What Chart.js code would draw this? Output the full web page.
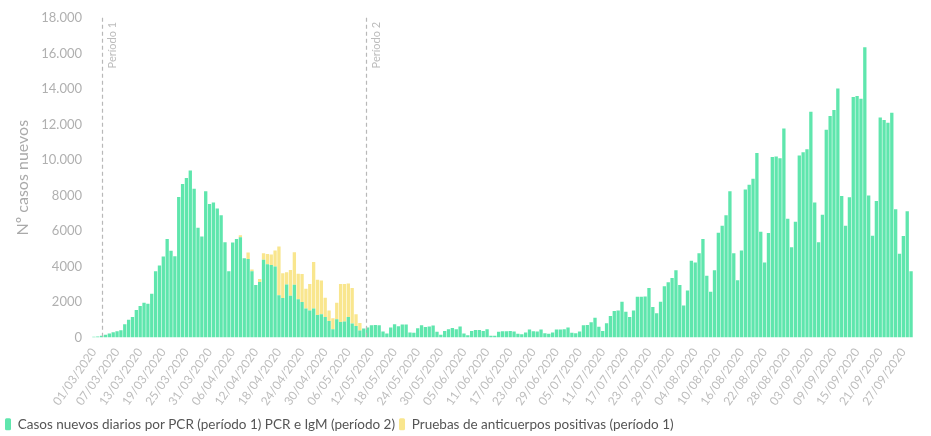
<!DOCTYPE html>
<html>
<head>
<meta charset="utf-8">
<script src="https://cdn.jsdelivr.net/npm/chart.js@4"></script>
<style>
  html, body { margin: 0; padding: 0; background: #fff; }
  #wrap { width: 931px; height: 436px; position: relative; }
</style>
</head>
<body>
<div id="wrap"><canvas id="chart"></canvas></div>
<script>
// first day of the series and number of days
const startDate = [2020, 2, 1];
const totalDays = 213;

// casos nuevos diarios por PCR (from 01/03/2020)
const casosPCR = [
  37, 56, 93, 149, 223, 298, 354, 410, 745, 1006,
  1155, 1546, 1769, 1955, 1900, 2458, 3724, 4060, 4562, 5549,
  4879, 4581, 7914, 8640, 8976, 9404, 8380, 6182, 5680, 8231,
  7523, 7598, 7263, 6890, 5363, 3724, 5344, 5549, 5650, 4469,
  4420, 3730, 2950, 3120, 4376, 4125, 4085, 4003, 2375, 2225,
  2979, 2345, 2970, 2160, 2000, 1638, 1527, 1638, 1266, 1303,
  1154, 931, 465, 1024, 875, 894, 1154, 782, 652, 400,
  503, 559, 689, 708, 689, 335, 223, 559, 745, 633,
  726, 726, 280, 261, 521, 689, 596, 614, 670, 317,
  149, 372, 465, 540, 465, 614, 223, 130, 372, 428,
  428, 372, 465, 93, 93, 317, 354, 354, 372, 335,
  205, 186, 280, 447, 354, 335, 447, 242, 205, 280,
  447, 447, 465, 559, 261, 242, 335, 689, 708, 857,
  1117, 605, 372, 800, 1210, 1490, 1527, 2011, 1452, 1154,
  1527, 2290, 2290, 2309, 2793, 1713, 1359, 2011, 2886, 3110,
  3352, 3780, 2961, 1806, 2644, 4320, 4227, 4748, 5549, 3482,
  2570, 3780, 5903, 6294, 6889, 8230, 4748, 3221, 4897, 8330,
  8603, 8938, 10390, 5958, 4227, 5884, 10167, 10185, 10092, 11768,
  6685, 5083, 6517, 10241, 10427, 10595, 12717, 7597, 5363, 6908,
  11693, 12466, 12810, 14021, 7969, 6294, 7895, 13537, 13593, 13444,
  16348, 7988, 5735, 7690, 12382, 12252, 12085, 12661, 7225, 4711,
  5716, 7113, 3724
];

// pruebas de anticuerpos positivas, from day index 38 (08/04/2020)
const anticuerposDesde = 38;
const anticuerpos = [
  100, 0, 370, 100, 0, 175, 372, 580, 590, 894,
  2745, 1390, 700, 1450, 1825, 1425, 1580, 1100, 1490, 2607,
  1992, 1900, 1080, 596, 615, 931, 2141, 2122, 1881, 2011,
  651, 420
];

// vertical markers (category index)
const periodos = [
  { pos: 2, texto: 'Período 1' },
  { pos: 70.5, texto: 'Período 2' }
];

const yTicks = [0, 2000, 4000, 6000, 8000, 10000, 12000, 14000, 16000, 18000];

const labels = [];
for (let i = 0; i < totalDays; i++) {
  const d = new Date(startDate[0], startDate[1], startDate[2] + i);
  const dd = String(d.getDate()).padStart(2, '0');
  const mm = String(d.getMonth() + 1).padStart(2, '0');
  labels.push(dd + '/' + mm + '/' + d.getFullYear());
}

const antiData = anticuerpos.map((v, k) => ({ x: labels[anticuerposDesde + k], y: v }));

function fmt(v) {
  if (v < 10000) return String(v);
  return String(v).replace(/\B(?=(\d{3})+(?!\d))/g, '.');
}

const periodLines = {
  id: 'periodLines',
  afterLayout(chart) {
    // nudge legend down/left a little
    chart.legend.top += 5;
    chart.legend.bottom += 5;
    chart.legend.left -= 8;
  },
  afterDatasetsDraw(chart) {
    const ctx = chart.ctx;
    const xs = chart.scales.x, ys = chart.scales.y;
    const top = ys.getPixelForValue(18000);
    const bottom = ys.getPixelForValue(0);
    ctx.save();
    periodos.forEach(p => {
      const px = Math.round(xs.getPixelForValue(p.pos)) + 0.5;
      ctx.strokeStyle = '#b8b8b8';
      ctx.lineWidth = 1.2;
      ctx.setLineDash([4, 3]);
      ctx.beginPath();
      ctx.moveTo(px, top);
      ctx.lineTo(px, bottom);
      ctx.stroke();
      ctx.setLineDash([]);
      ctx.translate(px + 10, top + 4);
      ctx.rotate(-Math.PI / 2);
      ctx.fillStyle = '#bcbcbc';
      ctx.font = '11px Lato';
      ctx.textAlign = 'right';
      ctx.textBaseline = 'middle';
      ctx.fillText(p.texto, 0, 0);
      ctx.setTransform(1, 0, 0, 1, 0, 0);
    });
    ctx.restore();
  }
};

new Chart(document.getElementById('chart'), {
  type: 'bar',
  data: {
    labels: labels,
    datasets: [
      {
        label: 'Casos nuevos diarios por PCR (período 1) PCR e IgM (período 2)',
        data: casosPCR,
        backgroundColor: '#5fe6ad',
        borderWidth: 0,
        barPercentage: 0.86,
        categoryPercentage: 1
      },
      {
        label: 'Pruebas de anticuerpos positivas (período 1)',
        data: antiData,
        backgroundColor: '#f9e68e',
        borderWidth: 0,
        barPercentage: 0.86,
        categoryPercentage: 1
      }
    ]
  },
  options: {
    responsive: true,
    maintainAspectRatio: false,
    animation: false,
    layout: { padding: { top: 11, right: 18, left: 9, bottom: 0 } },
    plugins: {
      tooltip: { enabled: false },
      legend: {
        position: 'bottom',
        align: 'start',
        labels: {
          boxWidth: 6,
          boxHeight: 12,
          useBorderRadius: true,
          borderRadius: 1.5,
          padding: 4,
          color: '#555',
          font: { family: 'Lato', size: 13.5 }
        }
      }
    },
    scales: {
      x: {
        stacked: true,
        grid: { display: false, drawTicks: false },
        border: { display: false },
        afterFit: s => { s.height = 71; },
        ticks: {
          autoSkip: false,
          maxRotation: 55,
          minRotation: 55,
          color: '#bdbdbd',
          font: { family: 'Lato', size: 12 },
          padding: 8,
          callback: function (v, i) { return i % 6 === 0 ? labels[i] : ''; }
        }
      },
      y: {
        stacked: true,
        min: 0,
        max: 18000,
        grid: { display: false, drawTicks: false },
        border: { display: false },
        afterFit: s => { s.width = 83; },
        afterBuildTicks: s => { s.ticks = yTicks.map(v => ({ value: v })); },
        title: {
          display: true,
          text: 'Nº casos nuevos',
          color: '#aaa',
          font: { family: 'Lato', size: 16 }
        },
        ticks: {
          color: '#b0b0b0',
          padding: 10,
          font: { family: 'Lato', size: 13 },
          callback: v => fmt(v)
        }
      }
    }
  },
  plugins: [periodLines]
});
</script>
</body>
</html>
